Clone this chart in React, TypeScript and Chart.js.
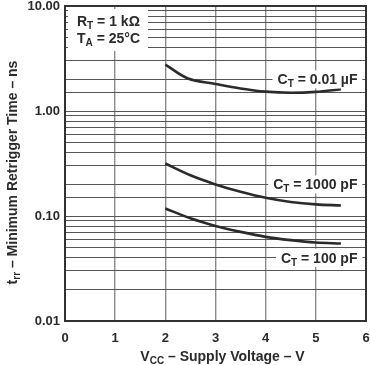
import React, { useEffect, useRef } from "react";
import { Chart, registerables } from "chart.js";

Chart.register(...registerables);

// Supply voltage (V) and minimum retrigger time (ns) for each timing capacitor
const vcc01uF = [2, 2.45, 3, 3.5, 4, 4.5, 5, 5.5];
const trr01uF = [2.77, 2.04, 1.81, 1.64, 1.53, 1.49, 1.52, 1.61];

const vcc1000pF = [2, 2.5, 3, 3.5, 4, 4.5, 5, 5.5];
const trr1000pF = [0.316, 0.244, 0.2, 0.17, 0.149, 0.136, 0.129, 0.126];

const vcc100pF = [2, 2.5, 3, 3.5, 4, 4.5, 5, 5.5];
const trr100pF = [0.118, 0.095, 0.0804, 0.0706, 0.0633, 0.0589, 0.0559, 0.0547];

const xTicks = [0, 1, 2, 3, 4, 5, 6];
const yDecadeLabels = [0.01, 0.1, 1, 10];

const FONT = '"Liberation Sans", Arial, Helvetica, sans-serif';
const INK = "#2b2b2b";

type Part = { t: string; sub?: boolean };

function richWidth(ctx: CanvasRenderingContext2D, parts: Part[], size: number) {
  let w = 0;
  for (const p of parts) {
    ctx.font = `bold ${p.sub ? Math.round(size * 0.72) : size}px ${FONT}`;
    w += ctx.measureText(p.t).width;
  }
  return w;
}

function drawRich(
  ctx: CanvasRenderingContext2D,
  parts: Part[],
  x: number,
  y: number,
  size: number,
  align: "left" | "center"
) {
  const w = richWidth(ctx, parts, size);
  let cx = align === "center" ? x - w / 2 : x;
  ctx.textAlign = "left";
  ctx.textBaseline = "alphabetic";
  ctx.fillStyle = INK;
  for (const p of parts) {
    const s = p.sub ? Math.round(size * 0.72) : size;
    ctx.font = `bold ${s}px ${FONT}`;
    ctx.fillText(p.t, cx, p.sub ? y + size * 0.22 : y);
    cx += ctx.measureText(p.t).width;
  }
  return w;
}

const decorPlugin = {
  id: "decor",
  afterDatasetsDraw(chart: any) {
    const ctx: CanvasRenderingContext2D = chart.ctx;
    const ca = chart.chartArea;
    const xs = chart.scales.x;
    const ys = chart.scales.y;
    ctx.save();

    // parameter box
    ctx.fillStyle = "#fff";
    ctx.fillRect(ca.left + 3, ca.top + 3, 80, 42);
    drawRich(ctx, [{ t: "R" }, { t: "T", sub: true }, { t: " = 1 k\u03A9" }], ca.left + 12, ca.top + 20, 14, "left");
    drawRich(ctx, [{ t: "T" }, { t: "A", sub: true }, { t: " = 25\u00B0C" }], ca.left + 12, ca.top + 37, 14, "left");

    // curve labels
    const labels: { parts: Part[]; v: number; xr: number }[] = [
      { parts: [{ t: "C" }, { t: "T", sub: true }, { t: " = 0.01 \u00B5F" }], v: 2, xr: 5.83 },
      { parts: [{ t: "C" }, { t: "T", sub: true }, { t: " = 1000 pF" }], v: 0.2, xr: 5.83 },
      { parts: [{ t: "C" }, { t: "T", sub: true }, { t: " = 100 pF" }], v: 0.04, xr: 5.83 },
    ];
    for (const l of labels) {
      const yc = ys.getPixelForValue(l.v);
      const w = richWidth(ctx, l.parts, 14);
      const xr = xs.getPixelForValue(l.xr);
      ctx.fillStyle = "#fff";
      ctx.fillRect(xr - w - 5, yc - 9, w + 10, 18);
      drawRich(ctx, l.parts, xr - w, yc + 5, 14, "left");
    }

    // frame
    ctx.strokeStyle = "#333";
    ctx.lineWidth = 2;
    ctx.strokeRect(ca.left, ca.top, ca.right - ca.left, ca.bottom - ca.top);

    // axis titles
    drawRich(
      ctx,
      [{ t: "V" }, { t: "CC", sub: true }, { t: " \u2013 Supply Voltage \u2013 V" }],
      (ca.left + ca.right) / 2 + 7,
      361,
      14,
      "center"
    );
    ctx.translate(17, (ca.top + ca.bottom) / 2 + 9);
    ctx.rotate(-Math.PI / 2);
    drawRich(
      ctx,
      [{ t: "t" }, { t: "rr", sub: true }, { t: " \u2013 Minimum Retrigger Time \u2013 ns" }],
      0,
      0,
      14,
      "center"
    );
    ctx.restore();
  },
};

export default function App() {
  const ref = useRef<HTMLCanvasElement | null>(null);

  useEffect(() => {
    document.body.style.margin = "0";
    const mk = (xs: number[], ys: number[]) => xs.map((x, i) => ({ x, y: ys[i] }));
    const ds = (data: any) => ({
      data,
      borderColor: "#2b2b2b",
      borderWidth: 2.6,
      pointRadius: 0,
      fill: false,
      tension: 0.35,
    });
    const chart = new Chart(ref.current as HTMLCanvasElement, {
      type: "line",
      data: {
        datasets: [
          ds(mk(vcc01uF, trr01uF)),
          ds(mk(vcc1000pF, trr1000pF)),
          ds(mk(vcc100pF, trr100pF)),
        ],
      },
      options: {
        responsive: false,
        animation: false,
        devicePixelRatio: 1,
        layout: { padding: { top: 6, right: 4, left: 0, bottom: 0 } },
        plugins: { legend: { display: false }, tooltip: { enabled: false } },
        scales: {
          x: {
            type: "linear",
            min: xTicks[0],
            max: xTicks[xTicks.length - 1],
            afterBuildTicks: (s: any) => {
              s.ticks = xTicks.map((v) => ({ value: v }));
            },
            afterFit: (s: any) => {
              s.height = 44;
              s.paddingLeft = 0;
              s.paddingRight = 0;
            },
            grid: { color: "#8c8c8c", lineWidth: 1.4, drawTicks: false },
            border: { display: false },
            ticks: {
              padding: 10,
              color: INK,
              font: { family: FONT, size: 13, weight: "bold" },
              callback: (v: any) => String(v),
            },
          },
          y: {
            type: "logarithmic",
            min: 0.01,
            max: 10,
            afterFit: (s: any) => {
              s.width = 65;
              s.paddingTop = 0;
              s.paddingBottom = 0;
            },
            grid: { color: "#555", lineWidth: 1, drawTicks: false },
            border: { display: false },
            ticks: {
              autoSkip: false,
              padding: 5,
              color: INK,
              font: { family: FONT, size: 13, weight: "bold" },
              callback: (v: any) => {
                const n = Number(v);
                const hit = yDecadeLabels.find((d) => Math.abs(d - n) < d * 1e-6);
                return hit !== undefined ? hit.toFixed(2) : "";
              },
            },
          },
        },
      },
      plugins: [decorPlugin],
    });
    return () => chart.destroy();
  }, []);

  return <canvas ref={ref} width={370} height={365} style={{ display: "block" }} />;
}
